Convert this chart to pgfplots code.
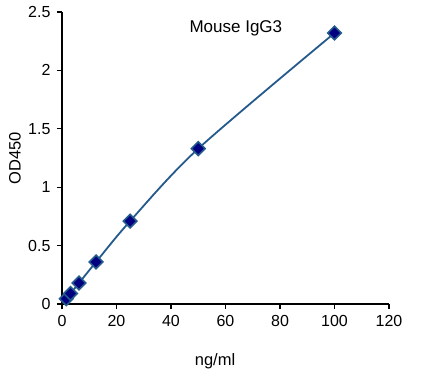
\documentclass[border=0pt]{standalone}
\usepackage{pgfplots}
\pgfplotsset{compat=1.18}
\usepackage{fontspec}
\setmainfont{Liberation Sans}
\definecolor{lineblue}{HTML}{245A8C}
\definecolor{navy}{HTML}{000080}
\begin{document}
\begin{tikzpicture}
\path[use as bounding box] (-62pt,-73pt) rectangle (379pt,304pt);
\begin{axis}[
  at={(0pt,0pt)}, anchor=south west,
  scale only axis, width=327pt, height=292pt,
  xmin=0, xmax=120, ymin=0, ymax=2.5,
  xtick={0,20,...,120}, ytick={0,0.5,1,1.5,2,2.5},
  yticklabels={0,0.5,1,1.5,2,2.5},
  axis x line*=bottom, axis y line*=left,
  axis line style={black, line width=1.1pt},
  tick style={black, line width=1.1pt},
  tick align=outside, major tick length=5pt,
  every tick label/.append style={font=\fontsize{16}{18}\selectfont},
  /pgf/number format/assume math mode=true,
  xticklabel style={yshift=-3pt},
  yticklabel style={xshift=-3pt},
  xlabel={ng/ml}, ylabel={OD450},
  label style={font=\fontsize{16.5}{18}\selectfont},
  xlabel style={at={(axis description cs:0.468,0)}, anchor=center, yshift=-57pt},
  ylabel style={at={(axis description cs:0,0.5)}, anchor=center, yshift=47pt},
  clip=false,
]
\addplot[color=lineblue, line width=1.8pt, smooth, tension=0.5,
  mark=square*, mark size=4.8pt,
  mark options={rotate=45, fill=navy, draw=lineblue, line width=1.6pt}]
  coordinates {
  (1.5625,0.045) (3.125,0.09) (6.25,0.18) (12.5,0.36) (25,0.71) (50,1.33) (100,2.32)
  };
\node[font=\fontsize{17}{19}\selectfont, anchor=base] at (axis cs:63.8,2.323) {Mouse IgG3};
\end{axis}
\end{tikzpicture}
\end{document}
